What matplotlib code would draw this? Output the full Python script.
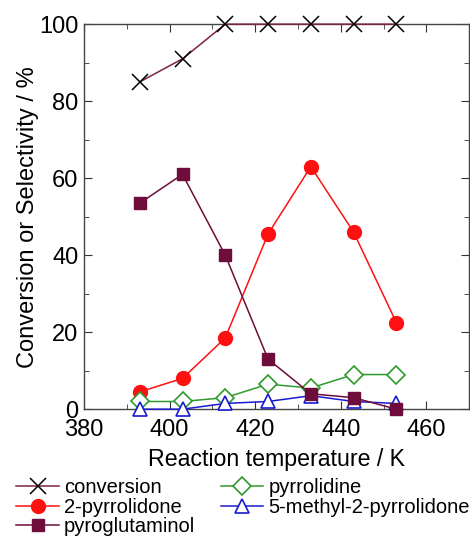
import matplotlib.pyplot as plt
from matplotlib.ticker import MultipleLocator

plt.rcParams['font.family'] = ['Liberation Sans', 'DejaVu Sans']

# ---- data ----
temps = [393, 403, 413, 423, 433, 443, 453]
conversion = [85, 91, 100, 100, 100, 100, 100]
pyrrolidone = [4.5, 8, 18.5, 45.5, 63, 46, 22.5]
pyroglutaminol = [53.5, 61, 40, 13, 4, 3, 0]
pyrrolidine = [2, 2, 3, 6.5, 5.5, 9, 9]
methyl_pyrrolidone = [0, 0, 1.5, 2, 3.5, 2, 1.5]

c_conv = '#7d2148'
c_red = '#ff1010'
c_pglu = '#6e0c3c'
c_green = '#2e9a2e'
c_blue = '#1a1ad0'

fig = plt.figure(figsize=(4.70, 5.37), dpi=100)
ax = fig.add_axes([0.179, 0.238, 0.819, 0.717])

ax.plot(temps, conversion, color=c_conv, lw=1.1, marker='x', ms=11,
        mec='black', mew=1.1, label='conversion', clip_on=False, zorder=3)
ax.plot(temps, pyrrolidone, color=c_red, lw=1.1, marker='o', ms=10,
        mfc=c_red, mec=c_red, label='2-pyrrolidone', clip_on=False, zorder=3)
ax.plot(temps, pyroglutaminol, color=c_pglu, lw=1.1, marker='s', ms=9,
        mfc=c_pglu, mec=c_pglu, label='pyroglutaminol', clip_on=False, zorder=4)
ax.plot(temps, pyrrolidine, color=c_green, lw=1.1, marker='D', ms=9,
        mfc='white', mec=c_green, mew=1.2, label='pyrrolidine', clip_on=False, zorder=3)
ax.plot(temps, methyl_pyrrolidone, color=c_blue, lw=1.1, marker='^', ms=10,
        mfc='white', mec=c_blue, mew=1.2, label='5-methyl-2-pyrrolidone',
        clip_on=False, zorder=3)

ax.set_xlim(380, 470)
ax.set_ylim(0, 100)
ax.xaxis.set_major_locator(MultipleLocator(20))
ax.xaxis.set_minor_locator(MultipleLocator(10))
ax.yaxis.set_major_locator(MultipleLocator(20))
ax.yaxis.set_minor_locator(MultipleLocator(10))
ax.tick_params(which='both', direction='in', top=True, right=True,
               labelsize=17, color='#333333')
ax.tick_params(which='major', length=6)
ax.tick_params(which='minor', length=3.5)
ax.tick_params(axis='x', which='major', pad=7)
ax.tick_params(axis='y', which='major', pad=4)
for s in ax.spines.values():
    s.set_color('#444444')
    s.set_linewidth(1.0)

ax.set_xlabel('Reaction temperature / K', fontsize=16.7, labelpad=5)
ax.set_ylabel('Conversion or Selectivity / %', fontsize=17, labelpad=0)

fig.legend(loc='upper left', bbox_to_anchor=(0.035, 0.109), ncol=2,
           frameon=False, fontsize=14.5, handlelength=2.1, handletextpad=0.25,
           labelspacing=0.02, columnspacing=1.3, borderaxespad=0, borderpad=0)

fig.savefig('out.png', dpi=100)
